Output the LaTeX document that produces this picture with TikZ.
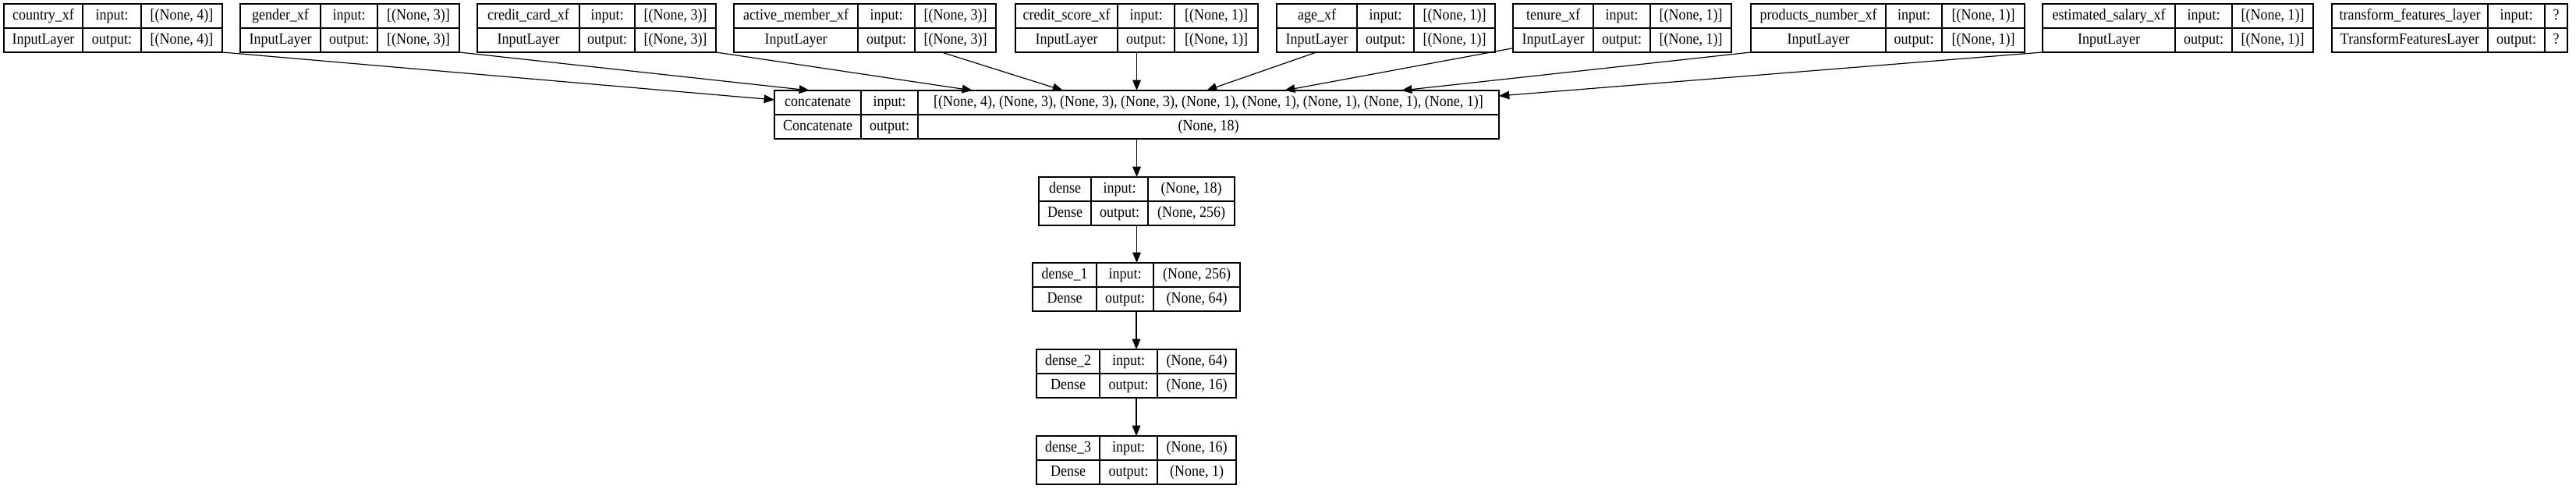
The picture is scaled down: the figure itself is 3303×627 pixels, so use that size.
\documentclass[tikz,border=0pt]{standalone}
\usepackage{fontspec}
\setmainfont{Liberation Serif}[FakeStretch=0.9]
\usetikzlibrary{arrows.meta}
\tikzset{
  lbox/.style={draw, line width=0.9pt, inner sep=0pt, outer sep=0pt},
  cellline/.style={line width=0.9pt},
  ltext/.style={inner sep=0pt, font=\fontsize{15}{17}\selectfont, text height=10pt, text depth=3pt},
  arr/.style={line width=0.9pt, -{Triangle[length=10pt,width=8pt]}},
}
% id, left, col1, col2, right, top   (pixel units)
\newcommand\mklayer[6]{%
  \pgfmathsetmacro\lyw{(#5-#2)*0.75}%
  \node[lbox, minimum width=\lyw pt, minimum height=46.5pt, anchor=north west] (#1) at (#2,#6) {};
  \draw[cellline] (#2,#6+31) -- (#5,#6+31);
  \draw[cellline] (#3,#6) -- (#3,#6+62);
  \draw[cellline] (#4,#6) -- (#4,#6+62);
  \coordinate (#1-p1) at ({(#2+#3)/2},#6+15.5);
  \coordinate (#1-p2) at ({(#2+#3)/2},#6+46.5);
  \coordinate (#1-p3) at ({(#3+#4)/2},#6+15.5);
  \coordinate (#1-p4) at ({(#3+#4)/2},#6+46.5);
  \coordinate (#1-p5) at ({(#4+#5)/2},#6+15.5);
  \coordinate (#1-p6) at ({(#4+#5)/2},#6+46.5);
}
% id, name, type, input shape, output shape
\newcommand\lytext[5]{%
  \node[ltext] (#1-name) at (#1-p1) {#2};
  \node[ltext] (#1-type) at (#1-p2) {#3};
  \node[ltext] (#1-in) at (#1-p3) {input:};
  \node[ltext] (#1-out) at (#1-p4) {output:};
  \node[ltext] (#1-ishape) at (#1-p5) {#4};
  \node[ltext] (#1-oshape) at (#1-p6) {#5};
}
\begin{document}
\begin{tikzpicture}[x=0.75pt, y=-0.75pt]
\useasboundingbox (0,0) rectangle (3303,627);

% input layers
\mklayer{country}{5}{106}{181}{285}{5}
\lytext{country}{country\_xf}{InputLayer}{[(None, 4)]}{[(None, 4)]}
\mklayer{gender}{308}{411}{484}{589}{5}
\lytext{gender}{gender\_xf}{InputLayer}{[(None, 3)]}{[(None, 3)]}
\mklayer{ccard}{612}{743}{814}{918}{5}
\lytext{ccard}{credit\_card\_xf}{InputLayer}{[(None, 3)]}{[(None, 3)]}
\mklayer{active}{941}{1100}{1173}{1277}{5}
\lytext{active}{active\_member\_xf}{InputLayer}{[(None, 3)]}{[(None, 3)]}
\mklayer{cscore}{1302}{1433}{1506}{1613}{5}
\lytext{cscore}{credit\_score\_xf}{InputLayer}{[(None, 1)]}{[(None, 1)]}
\mklayer{age}{1637}{1740}{1813}{1917}{5}
\lytext{age}{age\_xf}{InputLayer}{[(None, 1)]}{[(None, 1)]}
\mklayer{tenure}{1940}{2043}{2116}{2220}{5}
\lytext{tenure}{tenure\_xf}{InputLayer}{[(None, 1)]}{[(None, 1)]}
\mklayer{products}{2245}{2418}{2490}{2596}{5}
\lytext{products}{products\_number\_xf}{InputLayer}{[(None, 1)]}{[(None, 1)]}
\mklayer{salary}{2619}{2789}{2862}{2966}{5}
\lytext{salary}{estimated\_salary\_xf}{InputLayer}{[(None, 1)]}{[(None, 1)]}
\mklayer{transform}{2990}{3190}{3263}{3292}{5}
\lytext{transform}{transform\_features\_layer}{TransformFeaturesLayer}{?}{?}

% concatenate and dense layers
\mklayer{concat}{993}{1104}{1177}{1922}{116}
\lytext{concat}{concatenate}{Concatenate}{[(None, 4), (None, 3), (None, 3), (None, 3), (None, 1), (None, 1), (None, 1), (None, 1), (None, 1)]}{(None, 18)}
\mklayer{dense}{1332}{1399}{1472}{1583}{227}
\lytext{dense}{dense}{Dense}{(None, 18)}{(None, 256)}
\mklayer{densea}{1324}{1406}{1479}{1590}{337}
\lytext{densea}{dense\_1}{Dense}{(None, 256)}{(None, 64)}
\mklayer{denseb}{1329}{1410}{1484}{1585}{448}
\lytext{denseb}{dense\_2}{Dense}{(None, 64)}{(None, 16)}
\mklayer{densec}{1329}{1410}{1484}{1585}{559}
\lytext{densec}{dense\_3}{Dense}{(None, 16)}{(None, 1)}

% arrow heads on concatenate
\coordinate (h1) at (993,128);
\coordinate (h2) at (1038,116);
\coordinate (h3) at (1247,116);
\coordinate (h4) at (1363,116);
\coordinate (h6) at (1547,116);
\coordinate (h7) at (1647,116);
\coordinate (h8) at (1797,116);
\coordinate (h9) at (1922,123);

\draw[arr] (country.south east) -- (h1);
\draw[arr] (gender.south east) -- (h2);
\draw[arr] (ccard.south east) -- (h3);
\draw[arr] (active) -- (h4);
\draw[arr] (cscore.south) -- (cscore.south |- concat.north);
\draw[arr] (age) -- (h6);
\draw[arr] (tenure) -- (h7);
\draw[arr] (products.south west) -- (h8);
\draw[arr] (salary.south west) -- (h9);

\draw[arr] (concat.south) -- (concat.south |- dense.north);
\draw[arr] (dense.south) -- (dense.south |- densea.north);
\draw[arr] (densea.south) -- (densea.south |- denseb.north);
\draw[arr] (denseb.south) -- (denseb.south |- densec.north);
\end{tikzpicture}
\end{document}
